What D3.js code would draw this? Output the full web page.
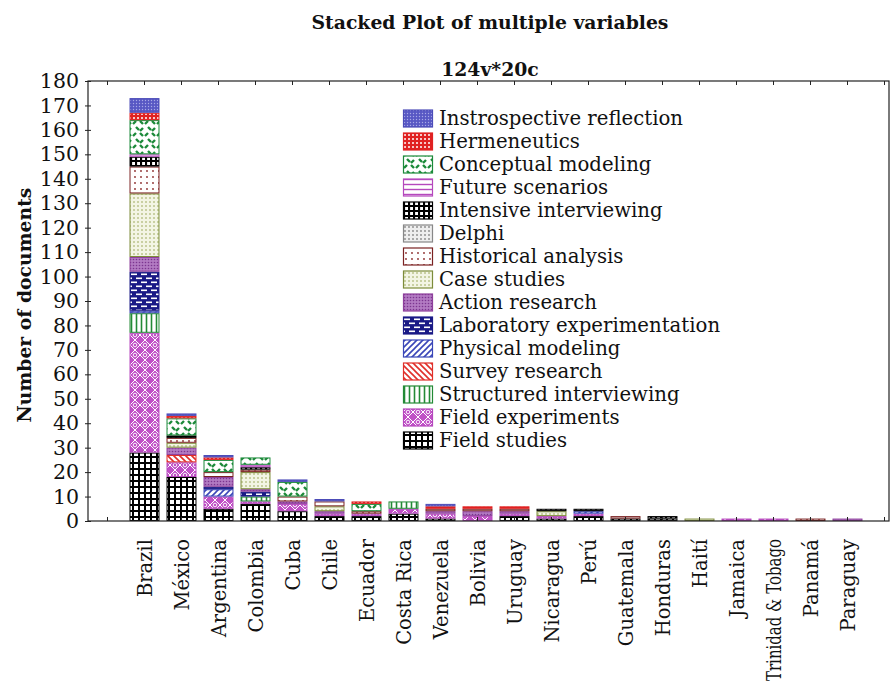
<!DOCTYPE html>
<html>
<head>
<meta charset="utf-8">
<script src="https://cdn.jsdelivr.net/npm/d3@7"></script>
<style>
  body { margin: 0; background: #fff; }
  text { font-family: "DejaVu Serif", serif; fill: #111; }
</style>
</head>
<body>
<svg id="chart" width="894" height="686"></svg>
<script>
const countries = ["Brazil", "México", "Argentina", "Colombia", "Cuba", "Chile", "Ecuador", "Costa Rica",
  "Venezuela", "Bolivia", "Uruguay", "Nicaragua", "Perú", "Guatemala", "Honduras", "Haití", "Jamaica",
  "Trinidad & Tobago", "Panamá", "Paraguay"];

// stacking order, bottom -> top
const methods = ["Field studies", "Field experiments", "Structured interviewing", "Survey research",
  "Physical modeling", "Laboratory experimentation", "Action research", "Case studies",
  "Historical analysis", "Delphi", "Intensive interviewing", "Future scenarios",
  "Conceptual modeling", "Hermeneutics", "Instrospective reflection"];

const fieldStudies       = [28, 18, 5, 7, 4, 2, 2, 3, 1, 0, 2, 1, 2, 1, 1, 0, 0, 0, 0, 0];
const fieldExperiments   = [49, 6, 5, 1, 3, 1, 1, 2, 2, 2, 1, 1, 1, 0, 0, 0, 1, 1, 0, 0];
const structuredInterv   = [8, 0, 0, 2, 0, 0, 0, 3, 0, 0, 0, 0, 0, 0, 0, 0, 0, 0, 0, 0];
const surveyResearch     = [0, 3, 0, 0, 0, 0, 0, 0, 0, 0, 0, 0, 0, 0, 0, 0, 0, 0, 0, 0];
const physicalModeling   = [1, 0, 3, 0, 0, 0, 0, 0, 0, 0, 0, 0, 1, 0, 0, 0, 0, 0, 0, 0];
const labExperimentation = [16, 0, 1, 2, 0, 0, 0, 0, 0, 0, 0, 0, 0, 0, 0, 0, 0, 0, 0, 0];
const actionResearch     = [6, 3, 4, 1, 1, 1, 0, 0, 1, 2, 1, 0, 0, 0, 0, 0, 0, 0, 0, 1];
const caseStudies        = [26, 2, 0, 7, 0, 2, 0, 0, 0, 0, 0, 2, 0, 0, 0, 1, 0, 0, 0, 0];
const historicalAnalysis = [11, 2, 2, 1, 2, 2, 1, 0, 1, 1, 1, 0, 0, 1, 0, 0, 0, 0, 1, 0];
const delphi             = [0, 0, 0, 0, 0, 0, 0, 0, 0, 0, 0, 0, 0, 0, 0, 0, 0, 0, 0, 0];
const intensiveInterv    = [4, 1, 0, 1, 0, 0, 0, 0, 0, 0, 0, 1, 1, 0, 1, 0, 0, 0, 0, 0];
const futureScenarios    = [1, 0, 0, 1, 0, 0, 0, 0, 0, 0, 0, 0, 0, 0, 0, 0, 0, 0, 0, 0];
const conceptualModeling = [14, 7, 5, 3, 6, 0, 3, 0, 0, 0, 0, 0, 0, 0, 0, 0, 0, 0, 0, 0];
const hermeneutics       = [3, 1, 1, 0, 0, 0, 1, 0, 1, 1, 1, 0, 0, 0, 0, 0, 0, 0, 0, 0];
const instrospective     = [6, 1, 1, 0, 1, 1, 0, 0, 1, 0, 0, 0, 0, 0, 0, 0, 0, 0, 0, 0];

const seriesValues = [fieldStudies, fieldExperiments, structuredInterv, surveyResearch, physicalModeling,
  labExperimentation, actionResearch, caseStudies, historicalAnalysis, delphi, intensiveInterv,
  futureScenarios, conceptualModeling, hermeneutics, instrospective];

const yTicks = d3.range(0, 181, 10);

const rows = countries.map((c, i) => {
  const r = { country: c };
  methods.forEach((m, j) => r[m] = seriesValues[j][i]);
  return r;
});

const svg = d3.select("#chart");
const frame = { left: 88, right: 889, top: 81, bottom: 521 };

const x = d3.scaleBand().domain(countries).range([126, 866]).paddingInner(0.19).paddingOuter(0.095);
const y = d3.scaleLinear().domain([0, 180]).range([frame.bottom, frame.top]);

// ---- fill patterns ----
const defs = svg.append("defs");
function pat(id, w, h, bg, draw) {
  const p = defs.append("pattern").attr("id", id)
    .attr("patternUnits", "userSpaceOnUse").attr("width", w).attr("height", h);
  p.append("rect").attr("width", w).attr("height", h).attr("fill", bg);
  draw(p);
}
const line = (p, d, c, w) => p.append("path").attr("d", d).attr("stroke", c).attr("stroke-width", w).attr("fill", "none");
const dot = (p, cx, cy, r, c) => p.append("circle").attr("cx", cx).attr("cy", cy).attr("r", r).attr("fill", c);

const colors = ["#000", "#b548bd", "#238a36", "#e0302a", "#3a46b8", "#1a1a86", "#8e3f9c",
  "#7d8c3a", "#7a2222", "#888", "#000", "#b548bd", "#1c8a3a", "#e02222", "#4c4cb8"];

pat("p0", 6, 6, "#fff", p => line(p, "M0 1H6M1 0V6", "#000", 2));
pat("p1", 10, 10, "#c050c6", p => {
  line(p, "M5 0L10 5L5 10L0 5Z", "#fff", 1);
  p.append("circle").attr("cx", 5).attr("cy", 5).attr("r", 1.8).attr("fill", "none").attr("stroke", "#fff").attr("stroke-width", 0.9);
});
pat("p2", 5, 5, "#fff", p => line(p, "M1.5 0V5", "#238a36", 1.6));
pat("p3", 6, 6, "#fff", p => line(p, "M0 0L6 6M-1 5L1 7M5 -1L7 1", "#e0302a", 1.6));
pat("p4", 6, 6, "#fff", p => line(p, "M0 6L6 0M-1 1L1 -1M5 7L7 5", "#3a46b8", 1.6));
pat("p5", 10, 8, "#1a1a86", p => {
  p.append("rect").attr("x", 1).attr("y", 1.5).attr("width", 6).attr("height", 1.6).attr("fill", "#fff");
  p.append("rect").attr("x", 6).attr("y", 5.5).attr("width", 6).attr("height", 1.6).attr("fill", "#fff");
  p.append("rect").attr("x", -4).attr("y", 5.5).attr("width", 6).attr("height", 1.6).attr("fill", "#fff");
});
pat("p6", 3, 3, "#b27ac2", p => dot(p, 1.5, 1.5, 0.8, "#7c3590"));
pat("p7", 4, 4, "#f3f5e4", p => dot(p, 2, 2, 0.75, "#8a9a40"));
pat("p8", 6, 6, "#fff", p => dot(p, 3, 3, 0.9, "#8b2a2a"));
pat("p9", 4, 4, "#eee", p => dot(p, 2, 2, 0.9, "#888"));
pat("p10", 5, 5, "#fff", p => line(p, "M0 1H5M1 0V5", "#000", 2.2));
pat("p11", 5, 5, "#fff", p => line(p, "M0 2.5H5", "#b548bd", 1.4));
pat("p12", 12, 12, "#fff", p => line(p, "M1 4L4 1M4 7L7 10M8 1L11 4M8 11L11 8", "#1c8a3a", 2.4));
pat("p13", 4, 4, "#e02222", p => dot(p, 2, 2, 1, "#fff"));
pat("p14", 3, 3, "#5858c4", p => dot(p, 1.5, 1.5, 0.7, "#a9a9e6"));

// ---- titles ----
svg.append("text").attr("x", 490).attr("y", 29).attr("text-anchor", "middle")
  .attr("font-size", 18.8).attr("font-weight", "bold").text("Stacked Plot of multiple variables");
svg.append("text").attr("x", 490).attr("y", 76).attr("text-anchor", "middle")
  .attr("font-size", 18.8).attr("font-weight", "bold").text("124v*20c");
svg.append("text").attr("transform", "translate(31,305) rotate(-90)").attr("text-anchor", "middle")
  .attr("font-size", 18.8).attr("font-weight", "bold").text("Number of documents");

// ---- bars ----
const stack = d3.stack().keys(methods)(rows);
const layer = svg.append("g").selectAll("g").data(stack).join("g")
  .attr("fill", (d, i) => `url(#p${i})`)
  .attr("stroke", (d, i) => colors[i]);
layer.selectAll("rect").data(d => d.filter(s => s[1] > s[0])).join("rect")
  .attr("x", d => x(d.data.country) + 0.5)
  .attr("width", x.bandwidth() - 1)
  .attr("y", d => y(d[1]) + 0.5)
  .attr("height", d => y(d[0]) - y(d[1]) - 1)
  .attr("stroke-width", 1);

// ---- frame & axes ----
svg.append("rect").attr("x", frame.left).attr("y", frame.top)
  .attr("width", frame.right - frame.left).attr("height", frame.bottom - frame.top)
  .attr("fill", "none").attr("stroke", "#222").attr("stroke-width", 1.2);

const yAxis = svg.append("g").attr("transform", `translate(${frame.left},0)`)
  .call(d3.axisLeft(y).tickValues(yTicks).tickSize(4).tickPadding(5).tickFormat(d3.format("d")));
yAxis.select(".domain").remove();
yAxis.selectAll("line").attr("x2", 3).attr("x1", -3).attr("stroke", "#222");
yAxis.selectAll("text").attr("font-size", 20.5).attr("font-family", "DejaVu Serif").attr("fill", "#111");

const slotTicks = d3.range(-1, 21).map(i => x(countries[0]) + x.bandwidth() / 2 + i * x.step());
svg.append("g").selectAll("line").data(slotTicks).join("line")
  .attr("x1", d => d).attr("x2", d => d).attr("y1", frame.top).attr("y2", frame.top + 4)
  .attr("stroke", "#222");
svg.append("g").selectAll("line").data(slotTicks).join("line")
  .attr("x1", d => d).attr("x2", d => d).attr("y1", frame.bottom).attr("y2", frame.bottom - 4)
  .attr("stroke", "#222");

svg.append("g").selectAll("text").data(countries).join("text")
  .attr("transform", d => `translate(${x(d) + x.bandwidth() / 2 + 7},539) rotate(-90)`)
  .attr("text-anchor", "end")
  .attr("font-size", 19.5)
  .attr("textLength", d => d === "Trinidad & Tobago" ? 142 : null)
  .attr("lengthAdjust", "spacingAndGlyphs")
  .text(d => d);

// ---- legend (top entry = last stacked series) ----
const legendItems = methods.map((m, i) => ({ name: m, i })).reverse();
const legend = svg.append("g").selectAll("g").data(legendItems).join("g")
  .attr("transform", (d, k) => `translate(403,${118 + k * 23})`);
legend.append("rect").attr("x", 0.5).attr("y", -8).attr("width", 29).attr("height", 17)
  .attr("fill", d => `url(#p${d.i})`).attr("stroke", d => colors[d.i]).attr("stroke-width", 1.2);
legend.append("text").attr("x", 36).attr("y", 7).attr("font-size", 19.7).text(d => d.name);
</script>
</body>
</html>
